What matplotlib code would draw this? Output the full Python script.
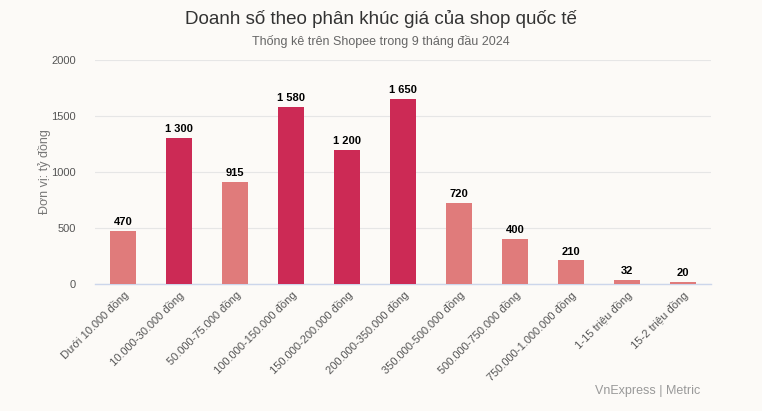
import matplotlib
matplotlib.use("Agg")
import matplotlib.pyplot as plt

# Data
categories = ["Dưới 10.000 đồng", "10.000-30.000 đồng", "50.000-75.000 đồng",
              "100.000-150.000 đồng", "150.000-200.000 đồng", "200.000-350.000 đồng",
              "350.000-500.000 đồng", "500.000-750.000 đồng", "750.000-1.000.000 đồng",
              "1-15 triệu đồng", "15-2 triệu đồng"]
values = [470, 1300, 915, 1580, 1200, 1650, 720, 400, 210, 32, 20]
highlight = [False, True, False, True, True, True, False, False, False, False, False]

LIGHT = "#e07b7b"
DARK = "#cc2a55"
BG = "#fcfaf7"

plt.rcParams["font.family"] = ["Liberation Sans", "DejaVu Sans"]

fig = plt.figure(figsize=(7.62, 4.11), dpi=100, facecolor=BG)
ax = fig.add_axes([0.1247, 0.309, 0.808, 0.545], facecolor=BG)

x = list(range(len(categories)))
colors = [DARK if h else LIGHT for h in highlight]
bars = ax.bar(x, values, width=0.46, color=colors, zorder=3)

for xi, v in zip(x, values):
    label = f"{v:,}".replace(",", " ")
    ax.text(xi, v + 35, label, ha="center", va="bottom", fontsize=8,
            fontweight="bold", color="black", zorder=4)

ax.set_xlim(-0.5, 10.5)
ax.set_ylim(0, 2000)
ax.set_yticks([0, 500, 1000, 1500, 2000])
ax.yaxis.grid(True, color="#e6e6e6", linewidth=0.8, zorder=0)
ax.set_axisbelow(True)

for side in ["top", "right", "left"]:
    ax.spines[side].set_visible(False)
ax.spines["bottom"].set_color("#ccd6eb")
ax.spines["bottom"].set_linewidth(1)

ax.tick_params(axis="y", length=0, labelsize=8, labelcolor="#555555", pad=14)
ax.tick_params(axis="x", length=0, labelsize=8, labelcolor="#555555", pad=4)
ax.set_xticks(x)
ax.set_xticklabels(categories, rotation=45, ha="right", rotation_mode="anchor")

ax.set_ylabel("Đơn vị: tỷ đồng", fontsize=9, color="#777777", labelpad=0)

fig.text(0.5, 0.953, "Doanh số theo phân khúc giá của shop quốc tế",
         ha="center", va="center", fontsize=13.5, color="#333333")
fig.text(0.5, 0.9, "Thống kê trên Shopee trong 9 tháng đầu 2024",
         ha="center", va="center", fontsize=9, color="#666666")
fig.text(0.919, 0.049, "VnExpress | Metric", ha="right", va="center",
         fontsize=9, color="#999999")

fig.savefig("out.png", dpi=100, facecolor=BG)
